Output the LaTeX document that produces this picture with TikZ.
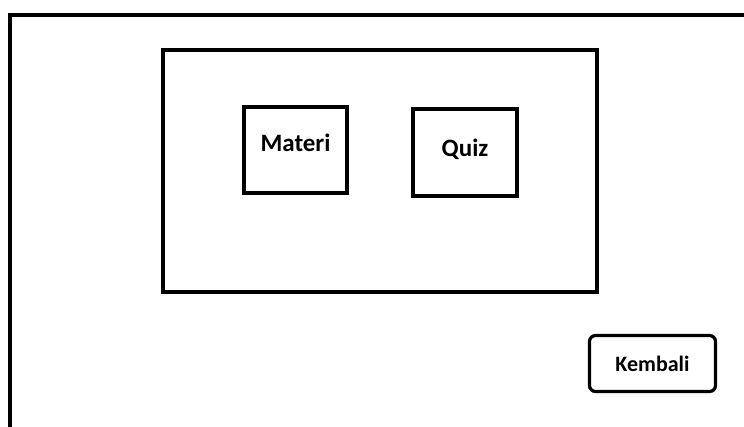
\documentclass[tikz,border=0pt]{standalone}
\usepackage{fontspec}
\setmainfont{Carlito}
\usetikzlibrary{positioning}

\tikzset{
  frame/.style={draw, line width=3.2pt},
  menubox/.style={frame, minimum width=103pt, minimum height=86pt, inner sep=0pt,
    font=\fontsize{25}{29}\selectfont\bfseries},
  button/.style={frame, rounded corners=6pt, minimum width=126pt, minimum height=56pt,
    inner sep=0pt, font=\fontsize{22}{26}\selectfont\bfseries}
}

\begin{document}
\begin{tikzpicture}[x=1pt, y=-1pt]

  % Page size and outer window
  \clip (0,0) rectangle (744,426);
  \draw[frame] (10,15) rectangle (770,450);

  % Content panel
  \node[frame, minimum width=434pt, minimum height=242pt, inner sep=0pt] (panel) at (380,171) {};

  % Menu entries
  \node[menubox, text depth=14pt] (materi) at (295.5,150) {Materi};
  \node[menubox, minimum width=104pt, minimum height=87pt, text depth=10pt] (quiz) at (465,152.5) {Quiz};

  % Back button
  \node[button] (kembali) at (652.5,363.5) {Kembali};

\end{tikzpicture}
\end{document}
